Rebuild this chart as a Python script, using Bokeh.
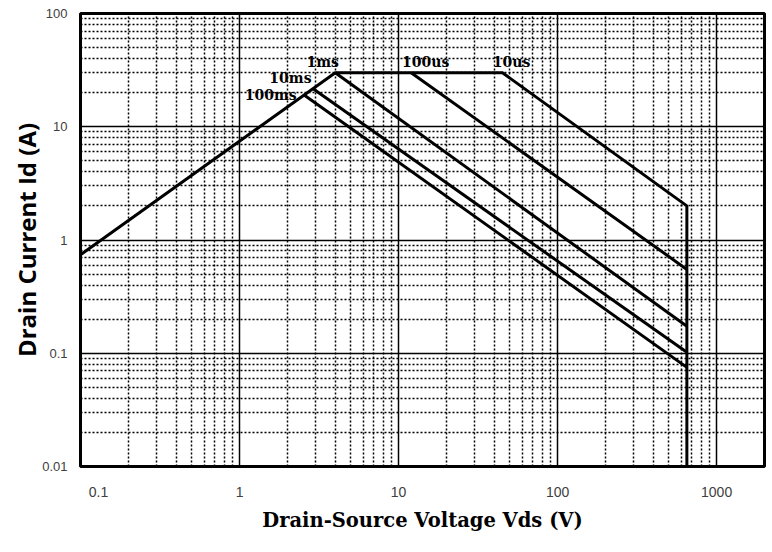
from bokeh.plotting import figure
from bokeh.models import FixedTicker, CustomJSTickFormatter
from bokeh.core.properties import value
from bokeh.embed import file_html
from bokeh.resources import INLINE

# ---- data ----
x_major = [0.1, 1, 10, 100, 1000]
y_major = [0.01, 0.1, 1, 10, 100]

# outer SOA boundary: RDS(on) limit -> current limit -> 10us -> BVdss
limit_v = [0.1, 4.0, 45.0, 650.0, 650.0]
limit_i = [0.74, 30.0, 30.0, 2.0, 0.01]

pulse_100us_v = [12.0, 650.0]
pulse_100us_i = [30.0, 0.55]

pulse_1ms_v = [4.0, 650.0]
pulse_1ms_i = [30.0, 0.173]

pulse_10ms_v = [2.93, 650.0]
pulse_10ms_i = [21.4, 0.102]

pulse_100ms_v = [2.56, 650.0]
pulse_100ms_i = [19.0, 0.075]

label_text = ["1ms", "100us", "10us", "10ms", "100ms"]
label_v = [3.33, 14.8, 51.4, 2.09, 1.57]
label_i = [37.2, 37.2, 37.2, 26.8, 19.0]

# minor grid positions (2..9 per decade)
x_minor = [m * d for d in [0.1, 1, 10, 100] for m in range(2, 10)]
y_minor = [m * d for d in [0.01, 0.1, 1, 10] for m in range(2, 10)]

p = figure(width=772, height=552, x_axis_type="log", y_axis_type="log",
           x_range=(0.1, 2000), y_range=(0.01, 100),
           output_backend="svg", toolbar_location=None,
           min_border_left=80, min_border_right=8, min_border_top=13,
           min_border_bottom=86)

p.outline_line_color = "black"
p.outline_line_width = 3
p.background_fill_color = "white"
p.border_fill_color = "white"

yfmt = CustomJSTickFormatter(code="return String(Number(tick.toPrecision(6)));")
# in the reference the first x label sits a little right of the frame edge
first_label_shift = 10 ** (18 / 159)
x_label_ticks = [x_major[0] * first_label_shift] + x_major[1:]
xfmt = CustomJSTickFormatter(code="return tick < 0.5 ? '0.1' : String(Number(tick.toPrecision(6)));")

p.xaxis.ticker = FixedTicker(ticks=x_label_ticks, minor_ticks=[])
p.yaxis.ticker = FixedTicker(ticks=y_major, minor_ticks=y_minor)
p.xgrid.ticker = FixedTicker(ticks=x_major, minor_ticks=x_minor)
p.ygrid.ticker = FixedTicker(ticks=y_major, minor_ticks=y_minor)
p.xaxis.formatter = xfmt
p.yaxis.formatter = yfmt

for ax in (p.xaxis[0], p.yaxis[0]):
    ax.axis_line_color = None
    ax.major_tick_out = 0
    ax.major_tick_in = 0
    ax.minor_tick_out = 0
    ax.minor_tick_in = 0
    ax.major_label_text_font = "Liberation Sans"
    ax.major_label_text_color = "#404040"

p.xaxis.major_label_text_font_size = "14px"
p.yaxis.major_label_text_font_size = "13px"
p.xaxis.major_label_standoff = 20
p.yaxis.major_label_standoff = 13

p.xaxis.axis_label = "Drain-Source Voltage Vds (V)"
p.xaxis.axis_label_text_font = "DejaVu Serif"
p.xaxis.axis_label_text_font_style = "bold"
p.xaxis.axis_label_text_font_size = "19.5px"
p.xaxis.axis_label_text_color = "black"
p.xaxis.axis_label_standoff = 9

p.yaxis.axis_label = "Drain Current Id (A)"
p.yaxis.axis_label_text_font = "Open Sans"
p.yaxis.axis_label_text_font_style = "bold"
p.yaxis.axis_label_text_font_size = "24px"
p.yaxis.axis_label_text_color = "black"
p.yaxis.axis_label_standoff = -4

for g in (p.xgrid[0], p.ygrid[0]):
    g.grid_line_color = "black"
    g.grid_line_width = 1.5
    g.grid_line_alpha = 1.0
    g.minor_grid_line_color = "black"
    g.minor_grid_line_width = 1.5
    g.minor_grid_line_dash = "2 2"

lw = 3
p.line(limit_v, limit_i, line_width=lw, line_color="black")
p.line(pulse_100us_v, pulse_100us_i, line_width=lw, line_color="black")
p.line(pulse_1ms_v, pulse_1ms_i, line_width=lw, line_color="black")
p.line(pulse_10ms_v, pulse_10ms_i, line_width=lw, line_color="black")
p.line(pulse_100ms_v, pulse_100ms_i, line_width=lw, line_color="black")

p.text(x=label_v, y=label_i, text=label_text,
       text_font=value("DejaVu Serif"), text_font_style="bold",
       text_font_size="14px", text_align="center", text_baseline="middle",
       text_color="black")

open("out.html", "w").write(file_html(p, INLINE))
